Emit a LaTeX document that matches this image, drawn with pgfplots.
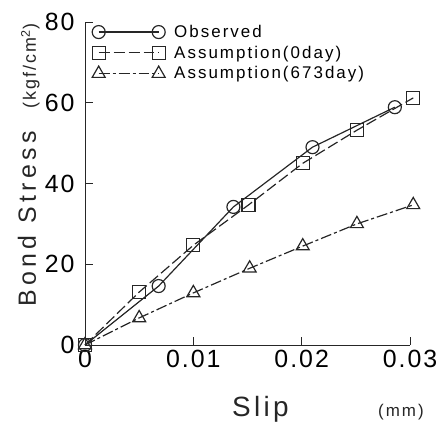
\documentclass[border=0pt]{standalone}
\usepackage{fontspec}
\setmainfont{Liberation Sans}[LetterSpace=8]
\newfontfamily\lblfont{Liberation Sans}[LetterSpace=12]
\newfontfamily\ylblfont{Liberation Sans}[LetterSpace=18]
\usepackage{pgfplots}
\pgfplotsset{compat=1.18}

\begin{document}
\begin{tikzpicture}
\begin{axis}[
    at={(0,0)}, anchor=south west,
    scale only axis,
    width=325bp, height=323bp,
    xmin=0, xmax=0.03, ymin=0, ymax=80,
    clip=false,
    scaled x ticks=false,
    axis x line=bottom, axis y line=left,
    axis line style={-, black!85, line width=1pt},
    xtick={0,0.01,0.02,0.03},
    xticklabels={0,0.01,0.02,0.03},
    ytick={0,20,40,60,80},
    yticklabels={0,20,40,60,80},
    tick align=inside,
    major tick length=8bp,
    tick style={black!85, line width=1pt},
    x tick label style={font=\fontsize{25}{25}\selectfont, yshift=-2bp},
    y tick label style={font=\fontsize{25}{25}\selectfont, xshift=-7bp},
    legend style={at={(4bp,323bp)}, anchor=north west, draw=none, fill=none,
        font=\lblfont\fontsize{17}{17}\selectfont,
        row sep=5bp, column sep=8bp,
        nodes={inner sep=1bp}},
    legend cell align=left,
    legend image code/.code={%
        \draw[mark repeat=1,#1] plot coordinates {(0bp,0bp) (60bp,0bp)};},
    every axis plot/.append style={black!85, line width=1.2pt},
]
\addplot[mark=o, mark size=6.5bp, mark options={solid}] coordinates {
    (0,0) (0.0068,14.6) (0.0137,34.2) (0.0210,49.0) (0.0286,58.9)
};
\addlegendentry{Observed}
\addplot[dash pattern=on 11pt off 4pt, mark=square, mark size=6.5bp, mark options={solid}] coordinates {
    (0,0) (0.005,13.1) (0.010,24.7) (0.0151,34.7) (0.0201,45.0) (0.0251,53.2) (0.0303,61.2)
};
\addlegendentry{Assumption(0day)}
\addplot[dash pattern=on 11pt off 3pt on 3pt off 3pt, mark=triangle, mark size=7.5bp, mark options={solid}] coordinates {
    (0,0) (0.005,6.7) (0.010,12.9) (0.0152,19.0) (0.0201,24.5) (0.0251,30.0) (0.0303,34.7)
};
\addlegendentry{Assumption(673day)}
\end{axis}
\node[rotate=90, anchor=base west, inner sep=0pt, text=black!85,
      font=\ylblfont\fontsize{25}{25}\selectfont] at (-49bp,38bp) {Bond Stress};
\node[rotate=90, anchor=base west, inner sep=0pt, text=black!85,
      font=\lblfont\fontsize{18}{18}\selectfont] at (-49bp,236bp) {(kgf/cm\textsuperscript{2})};
\node[anchor=base west, inner sep=0pt, text=black!85,
      font=\lblfont\fontsize{28}{28}\selectfont] at (147bp,-71bp) {Slip};
\node[anchor=base west, inner sep=0pt, text=black!85,
      font=\lblfont\fontsize{17}{17}\selectfont] at (293bp,-71bp) {(mm)};
\pgfresetboundingbox
\path[use as bounding box] (-85bp,-78bp) rectangle (360bp,345bp);
\end{tikzpicture}
\end{document}
